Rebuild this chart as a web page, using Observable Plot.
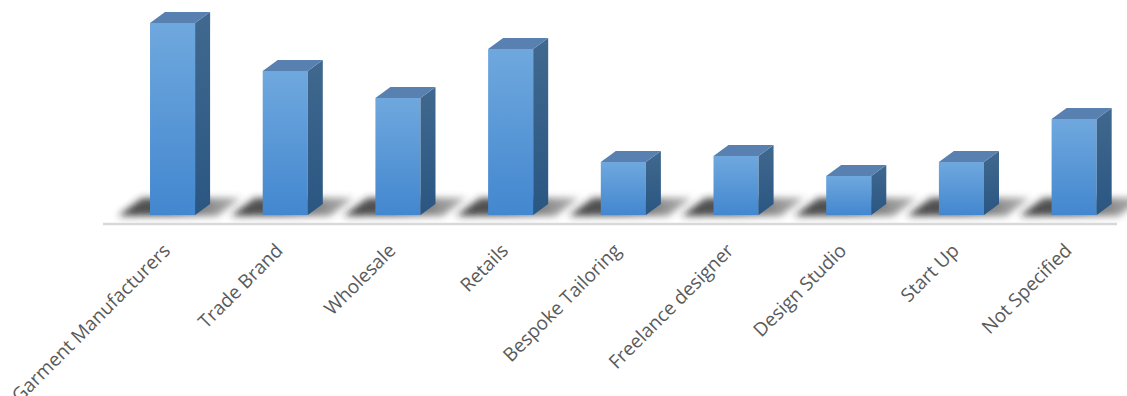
<!DOCTYPE html>
<html>
<head>
<meta charset="utf-8">
<script src="https://cdn.jsdelivr.net/npm/d3@7"></script>
<script src="https://cdn.jsdelivr.net/npm/@observablehq/plot@0.6"></script>
<style>
  html, body { margin: 0; padding: 0; background: #fff; }
  #chart svg { display: block; }
</style>
</head>
<body>
<div id="chart"></div>
<script>
// Categories (tick labels)
const categories = [
  "Garment Manufacturers", "Trade Brand", "Wholesale", "Retails",
  "Bespoke Tailoring", "Freelance designer", "Design Studio", "Start Up", "Not Specified"
];
// Series values (no value axis in the original)
const values = [192, 144, 117, 166, 53, 59, 39, 53, 96];

const data = categories.map((category, i) => ({category, value: values[i]}));

// 3D depth offsets (style)
const DEPTH_X = 15, DEPTH_Y = 11;

function bw(x) { return typeof x.bandwidth === "function" ? x.bandwidth() : x.bandwidth; }
const pts = a => a.map(p => p.join(",")).join(" ");

// Floor shadows drawn from scales
function shadowMark(index, scales) {
  const {x, y} = scales;
  const w = bw(x), y0 = y(0);
  const g = d3.create("svg:g");
  for (const d of data) {
    const l = x(d.category), r = l + w;
    g.append("polygon")
      .attr("points", pts([[l - 32, y0 + 1], [r + 22, y0 + 1], [r + 46, y0 - 17], [l - 8, y0 - 17]]))
      .attr("fill", "url(#shadowGrad)")
      .attr("filter", "url(#blur)");
  }
  return g.node();
}

// Side and top faces drawn from scales
function depthMark(index, scales) {
  const {x, y} = scales;
  const w = bw(x), y0 = y(0);
  const g = d3.create("svg:g");
  for (const d of data) {
    const l = x(d.category), r = l + w, t = y(d.value);
    g.append("polygon")
      .attr("points", pts([[r, y0], [r, t], [r + DEPTH_X, t - DEPTH_Y], [r + DEPTH_X, y0 - DEPTH_Y]]))
      .attr("fill", "url(#sideGrad)");
    g.append("polygon")
      .attr("points", pts([[l, t], [r, t], [r + DEPTH_X, t - DEPTH_Y], [l + DEPTH_X, t - DEPTH_Y]]))
      .attr("fill", "#5880b0");
  }
  return g.node();
}

const chart = Plot.plot({
  width: 1127,
  height: 396,
  marginLeft: 103,
  marginRight: 10,
  marginTop: 0,
  marginBottom: 0,
  style: {background: "#fff", fontFamily: "'Open Sans', sans-serif"},
  x: {domain: categories, range: [82.4, 1164.3], padding: 0.6, round: false, axis: null},
  y: {domain: [0, 200], range: [215, 15], axis: null},
  marks: [
    shadowMark,
    Plot.ruleY([0], {dy: 8.5, stroke: "#d9d9d9", strokeWidth: 2.5}),
    Plot.barY(data, {x: "category", y: "value", fill: "url(#frontGrad)"}),
    depthMark,
    Plot.text(data, {
      x: "category", y: 0, text: "category",
      rotate: -45, textAnchor: "end",
      dx: -6, dy: 32,
      fontSize: 19, fill: "#5a5a5a"
    })
  ]
});

const svg = d3.select(chart);
const defs = svg.insert("defs", ":first-child");
const fg = defs.append("linearGradient").attr("id", "frontGrad").attr("x1", 0).attr("y1", 0).attr("x2", 0).attr("y2", 1);
fg.append("stop").attr("offset", "0%").attr("stop-color", "#6fa8de");
fg.append("stop").attr("offset", "100%").attr("stop-color", "#4387cf");
const sg = defs.append("linearGradient").attr("id", "sideGrad").attr("x1", 0).attr("y1", 0).attr("x2", 0).attr("y2", 1);
sg.append("stop").attr("offset", "0%").attr("stop-color", "#41698f");
sg.append("stop").attr("offset", "100%").attr("stop-color", "#2a5682");
const shg = defs.append("linearGradient").attr("id", "shadowGrad").attr("x1", 0).attr("y1", 0).attr("x2", 1).attr("y2", 0);
shg.append("stop").attr("offset", "0%").attr("stop-color", "#222").attr("stop-opacity", 0.85);
shg.append("stop").attr("offset", "45%").attr("stop-color", "#333").attr("stop-opacity", 0.8);
shg.append("stop").attr("offset", "100%").attr("stop-color", "#555").attr("stop-opacity", 0.45);
const blur = defs.append("filter").attr("id", "blur").attr("x", "-30%").attr("y", "-60%").attr("width", "160%").attr("height", "220%");
blur.append("feGaussianBlur").attr("stdDeviation", 3.5);

document.getElementById("chart").appendChild(chart);
</script>
</body>
</html>
